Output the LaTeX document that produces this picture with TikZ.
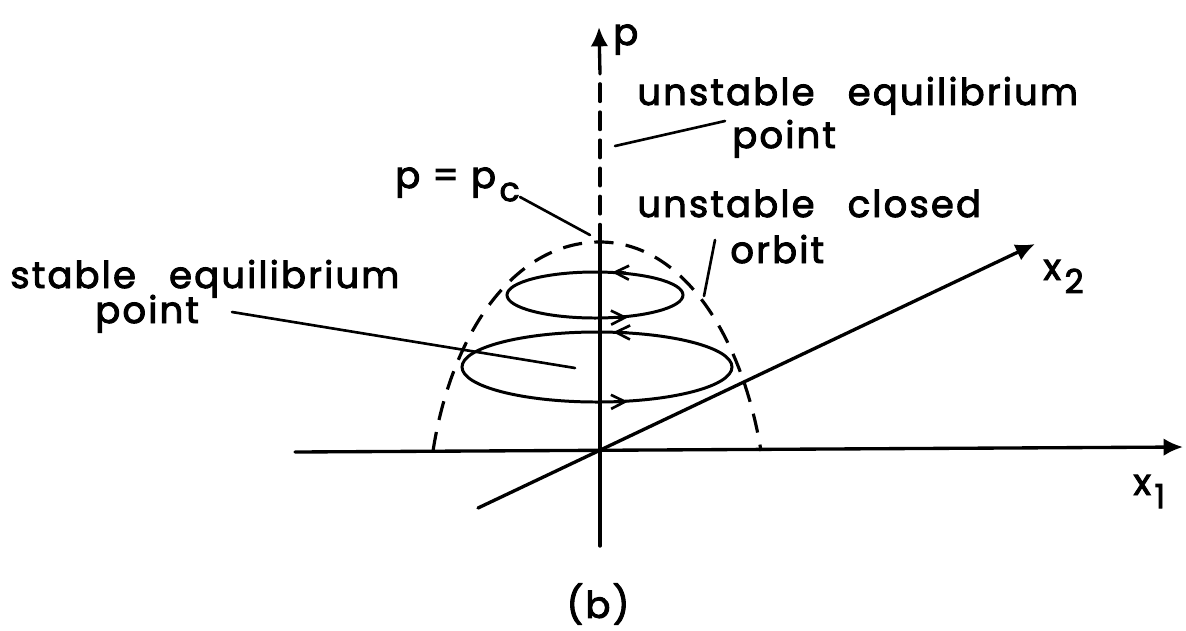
\documentclass[tikz,border=0pt]{standalone}
\usepackage{fontspec}
\setmainfont{Poppins}[FakeBold=2.6, LetterSpace=6]
\usetikzlibrary{arrows.meta}

\newcommand{\wordgap}{\hspace{0.9em}}
\newcommand{\lowsub}[1]{\kern2pt\raisebox{-0.65ex}{\scalebox{0.9}{#1}}}

\begin{document}
\begin{tikzpicture}[x=0.02cm, y=-0.02cm, >={Latex[length=11pt,width=10pt]},
    axis/.style={line width=1.9pt, line cap=round},
    orbit/.style={line width=1.7pt},
    dome/.style={line width=1.8pt, dash pattern=on 11pt off 7pt},
    leader/.style={line width=1.5pt, line cap=round},
    barb/.style={line width=1.5pt, -{Straight Barb[length=8pt,width=8pt]}},
    label/.style={font=\fontsize{21}{25}\selectfont, inner sep=0pt, anchor=base west}]
    \useasboundingbox (0,0) rectangle (1186,630);

    % Axes
    \coordinate (O)    at (600,451);
    \coordinate (x1a)  at (295,452);
    \coordinate (x1b)  at (1183,447);
    \coordinate (x2a)  at (478,508);
    \coordinate (x2b)  at (1035,244);
    \coordinate (pa)   at (600,546);
    \coordinate (ptop) at (600,242);
    \coordinate (pb)   at (600,82);
    \coordinate (pc0)  at (600,74);
    \coordinate (pd)   at (599,27);
    \draw[axis, ->] (x1a) -- (x1b);
    \draw[axis, ->] (x2a) -- (x2b);
    \draw[axis] (pa) -- (ptop);
    \draw[axis, dash pattern=on 10pt off 6pt] (ptop) -- (pb);
    \draw[axis, ->] (pc0) -- (pd);

    % Separatrix p = p_c
    \coordinate (dl) at (433,451);
    \coordinate (dr) at (761,451);
    \draw[dome] (dl) .. controls (451,335) and (513,242) .. (ptop)
                     .. controls (682,242) and (742,335) .. (dr);

    % Closed orbits
    \draw[orbit] (595,295) ellipse [x radius=88, y radius=23];
    \draw[orbit] (597,367) ellipse [x radius=135, y radius=35];
    \draw[barb] (626,272.6) -- (612,272.3);
    \draw[barb] (614,317.6) -- (628,317.4);
    \draw[barb] (627,332.4) -- (613,332.2);
    \draw[barb] (614,401.8) -- (628,401.6);

    % Labels
    \node[label] (pax)  at (613,45)  {p};
    \node[label] (uep1) at (637,105) {unstable\wordgap equilibrium};
    \node[label] (uep2) at (732,148) {point};
    \node[label] (pcl)  at (395,188) {p = p\lowsub{c}};
    \node[label] (uco1) at (637,217) {unstable\wordgap closed};
    \node[label] (uco2) at (730,263) {orbit};
    \node[label] (sep1) at (10,288)  {stable\wordgap equilibrium};
    \node[label] (sep2) at (95,323)  {point};
    \node[label] (x2l)  at (1043,280) {x\lowsub{2}};
    \node[label] (x1l)  at (1133,495) {x\lowsub{1}};
    \node[font=\fontsize{21}{25}\selectfont, inner sep=0pt] (cap) at (598,604) {(b)};

    % Leaders
    \coordinate (uepA) at (615,146);
    \coordinate (uepB) at (725,121);
    \coordinate (pcA)  at (520,197);
    \coordinate (pcB)  at (590,235);
    \coordinate (ucoA) at (715,240);
    \coordinate (ucoB) at (704,296);
    \coordinate (sepA) at (232,312);
    \coordinate (sepB) at (575,368);
    \draw[leader] (uepA) -- (uepB);
    \draw[leader] (pcA) -- (pcB);
    \draw[leader] (ucoA) -- (ucoB);
    \draw[leader] (sepA) -- (sepB);
\end{tikzpicture}
\end{document}
